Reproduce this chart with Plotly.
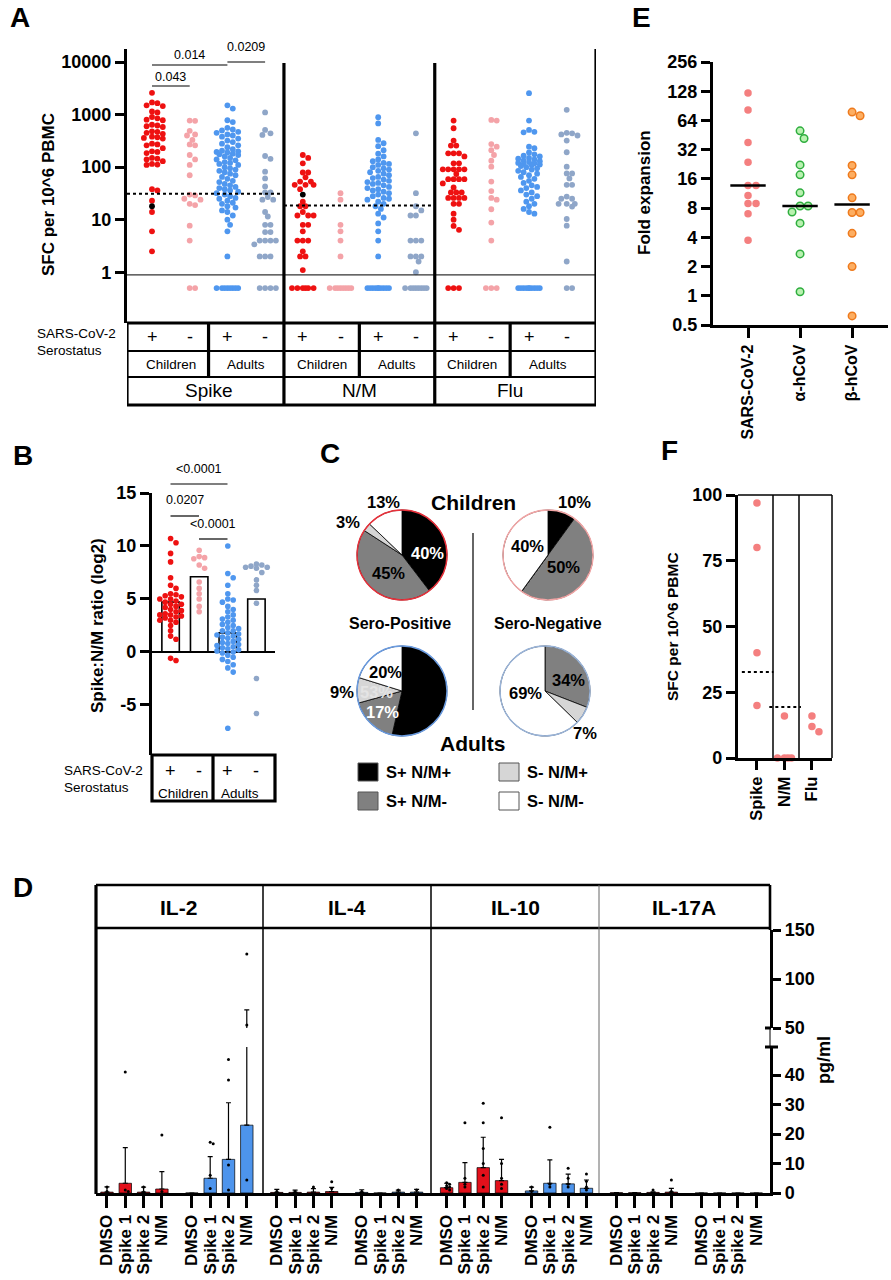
import numpy as np
import plotly.graph_objects as go

W, H = 891, 1280
FONT = "Liberation Sans, Arial, Helvetica, sans-serif"

# ======================= DATA =======================
# ---- Panel A: SFC per 10^6 PBMC ----
a_antigens = ["Spike", "N/M", "Flu"]
a_cohorts = ["Children", "Adults"]
a_sero = ["+", "-"]

a_spike_child_pos = [2600, 1700, 1650, 1500, 1450, 1150, 1100, 900, 850, 800, 780, 640, 620, 600, 580,
                     480, 470, 450, 430, 380, 370, 360, 350, 280, 270, 260, 230, 200, 195, 185, 150,
                     145, 140, 130, 115, 112, 110, 38, 36, 23, 14, 6, 2.5]
a_spike_child_neg = [770, 760, 490, 420, 400, 330, 270, 260, 170, 140, 110, 70, 30, 29, 25, 24, 20, 19,
                     7.7, 4, 0.5, 0.5]
a_spike_adult_pos = [1500, 1300, 780, 720, 560, 520, 500, 470, 450, 420, 400, 380, 350, 320, 300, 280,
                     260, 240, 220, 205, 200, 195, 190, 180, 175, 170, 160, 150, 140, 135, 125, 120,
                     115, 110, 100, 95, 90, 85, 80, 75, 70, 65, 60, 55, 52, 48, 45, 42, 40, 38, 36,
                     34, 32, 30, 28, 26, 25, 23, 21, 20, 18, 17, 15, 14, 12, 10, 8, 6, 2,
                     0.5, 0.5, 0.5, 0.5, 0.5, 0.5, 0.5, 0.5]
a_spike_adult_neg = [1100, 510, 440, 410, 163, 144, 82, 61, 43, 33, 33, 27, 24, 24, 14, 11.5, 8, 8,
                     5.8, 5.8, 4, 4, 4, 4, 3.4, 2, 2, 2, 0.5, 0.5, 0.5, 0.5]
a_nm_child_pos = [170, 150, 118, 79, 79, 64, 53, 53, 46, 46, 46, 38, 22, 18, 18, 14, 12, 12, 12, 8, 8,
                  6, 4, 4, 4, 2.5, 2, 2, 1.1, 0.5, 0.5, 0.5, 0.5, 0.5, 0.5]
a_nm_child_neg = [32, 24, 8, 6, 4, 2, 0.5, 0.5, 0.5, 0.5, 0.5, 0.5, 0.5, 0.5]
a_nm_adult_pos = [890, 680, 330, 285, 250, 210, 180, 160, 140, 130, 120, 115, 110, 100, 95, 90, 85, 80,
                  75, 70, 65, 62, 58, 55, 52, 50, 48, 45, 42, 40, 38, 36, 34, 32, 30, 28, 26, 25, 24,
                  22, 20, 18, 16, 13, 11, 8.5, 6, 4, 2,
                  0.5, 0.5, 0.5, 0.5, 0.5, 0.5, 0.5, 0.5, 0.5, 0.5]
a_nm_adult_neg = [440, 32, 18, 15, 12, 12, 4, 4, 4, 2, 2, 2, 1.6, 1.0,
                  0.5, 0.5, 0.5, 0.5, 0.5, 0.5, 0.5, 0.5]
a_flu_child_pos = [770, 550, 320, 257, 257, 183, 183, 183, 160, 118, 118, 91, 91, 91, 91, 91, 74, 59,
                   59, 59, 59, 49, 41, 33, 33, 33, 26, 26, 26, 26, 20, 20, 13, 10, 7.6, 6.4,
                   0.5, 0.5, 0.5]
a_flu_child_neg = [790, 770, 275, 245, 210, 170, 133, 102, 53, 35, 26, 24, 15.8, 8.8, 4, 0.5, 0.5, 0.5]
a_flu_adult_pos = [2560, 770, 510, 470, 460, 245, 230, 190, 175, 165, 160, 150, 145, 140, 135, 130,
                   125, 120, 118, 115, 112, 110, 105, 100, 95, 90, 85, 80, 75, 70, 65, 60, 55, 50,
                   45, 42, 40, 36, 33, 30, 28, 25, 22, 20, 18, 16, 14, 13,
                   0.5, 0.5, 0.5, 0.5, 0.5, 0.5, 0.5, 0.5, 0.5, 0.5]
a_flu_adult_neg = [1230, 450, 440, 420, 400, 320, 192, 102, 76, 76, 61, 46, 46, 27.5, 25, 25, 20, 20,
                   20, 17.8, 10.3, 7.7, 1.6, 0.5, 0.5]
a_highlight = {"Spike": 18, "N/M": 30}          # black highlighted donor
a_threshold = {"Spike": 31, "N/M": 18.6}        # dotted positivity thresholds
a_floor = 0.89                                  # solid detection line
a_tickvals = [1, 10, 100, 1000, 10000]
a_pvalues = ["0.043", "0.014", "0.0209"]
a_pvalue_pairs = [(0, 1), (0, 2), (2, 3)]

# ---- Panel B: Spike:N/M ratio (log2) ----
b_child_pos = [10.7, 10.3, 9.3, 8.5, 7.0, 6.3, 6.0, 5.5, 5.4, 5.3, 5.2, 5.0, 5.0, 4.8, 4.7, 4.5, 4.5,
               4.3, 4.2, 4.0, 3.9, 3.8, 3.6, 3.5, 3.5, 3.4, 3.3, 3.2, 3.0, 3.0, 2.8, 2.5, 2.0, 1.5,
               1.2, -0.6, -0.8]
b_child_neg = [9.6, 9.0, 8.9, 8.8, 8.2, 7.9, 6.6, 6.0, 5.5, 5.0, 4.3, 3.8]
b_adult_pos = [10.0, 7.4, 7.0, 6.3, 5.5, 5.0, 4.9, 4.7, 4.3, 4.0, 3.8, 3.5, 3.3, 3.1, 3.0, 2.8, 2.6,
               2.5, 2.3, 2.2, 2.0, 2.0, 1.8, 1.7, 1.6, 1.5, 1.4, 1.3, 1.2, 1.0, 0.9, 0.8, 0.7, 0.6,
               0.5, 0.4, 0.3, 0.2, 0.1, 0.0, -0.1, -0.3, -0.5, -0.7, -0.9, -1.2, -1.5, -1.9, -7.2]
b_adult_neg = [8.3, 8.2, 8.1, 8.0, 8.0, 7.9, 7.5, 6.8, 6.3, 5.8, 4.6, -2.5, -5.8]
b_bars = [4.7, 7.1, 1.8, 5.0]
b_tickvals = [-5, 0, 5, 10, 15]
b_pvalues = ["<0.0001", "0.0207", "<0.0001"]
b_pvalue_pairs = [(0, 2), (0, 1), (1, 2)]

# ---- Panel C: pies (% of donors) ----
c_labels = ["S+ N/M+", "S+ N/M-", "S- N/M+", "S- N/M-"]
c_children_pos = [40, 45, 3, 13]
c_children_neg = [10, 50, 0, 40]
c_adults_pos = [53, 17, 9, 20]
c_adults_neg = [0, 34, 7, 69]

# ---- Panel D: cytokines (pg/ml) ----
d_cytokines = ["IL-2", "IL-4", "IL-10", "IL-17A"]
d_stimuli = ["DMSO", "Spike 1", "Spike 2", "N/M"]
d_child_mean = [[0.3, 3.3, 0.3, 1.35], [0.2, 0.2, 0.3, 0.5], [1.8, 3.6, 8.6, 4.2], [0.1, 0.1, 0.2, 0.3]]
d_child_sd = [[1.8, 12.1, 1.7, 5.9], [1.0, 0.8, 1.2, 1.4], [1.5, 6.7, 10.3, 7.2], [0.0, 0.0, 0.2, 1.3]]
d_adult_mean = [[0.0, 5.0, 11.4, 23.0], [0.2, 0.0, 0.3, 0.3], [0.7, 3.3, 3.1, 1.6], [0.0, 0.0, 0.0, 0.0]]
d_adult_sd = [[0.0, 7.3, 19.2, 45.4], [0.9, 0.0, 0.7, 0.9], [1.3, 7.9, 3.3, 2.8], [0.0, 0.0, 0.0, 0.0]]
d_child_points = [[[0.5, 2.0], [41, 1.0, 0.5], [0.3, 2.0], [19.7, 0.5]],
                  [[0.5], [0.5], [2.0], [3.8, 1.5]],
                  [[3.5, 3.0, 2.5, 2.0, 1.5, 1.0], [23.8, 5.0, 3.0, 2.0],
                   [30.4, 23.8, 15.1, 10.0, 6.0, 2.0], [25.5, 10.0, 5.0, 3.0, 1.5]],
                  [[], [], [1.0], [4.4, 0.5]]]
d_adult_points = [[[], [16.7, 17.2, 6.0, 1.5], [45.3, 38.3, 9.5, 1.0], [125.5, 53.0, 4.4]],
                  [[0.5], [], [1.0], [1.0]],
                  [[2.0, 0.5], [22.3, 3.0, 2.0], [8.4, 5.0, 3.0, 2.0], [6.4, 4.0, 2.0, 1.0]],
                  [[], [], [], []]]
d_low_ticks = [0, 10, 20, 30, 40]
d_high_ticks = [50, 100, 150]

# ---- Panel E: fold expansion ----
e_categories = ["SARS-CoV-2", "α-hCoV", "β-hCoV"]
e_sars = [123, 82, 38, 23.7, 13.7, 13.7, 10.8, 8.9, 8.9, 7.0, 3.74]
e_alpha = [50, 41.7, 22.3, 17.6, 11.5, 8.4, 8.4, 7.3, 5.6, 2.7, 1.1]
e_beta = [78, 71.5, 22, 17.6, 10.2, 7.2, 7.2, 4.4, 2.0, 0.62]
e_medians = [13.7, 8.4, 8.7]
e_tickvals = [0.5, 1, 2, 4, 8, 16, 32, 64, 128, 256]

# ---- Panel F: SFC in seronegative subset ----
f_categories = ["Spike", "N/M", "Flu"]
f_spike = [97, 80, 40, 20]
f_nm = [16, 0, 0, 0, 0]
f_flu = [16, 12, 10]
f_thresholds = [32.7, 19.4]
f_tickvals = [0, 25, 50, 75, 100]

# ======================= STYLE / HELPERS =======================
RED = "#ee1111"
PINK = "#f4a3a8"
BLUE = "#4f97ef"
GREYBLUE = "#8fa6c8"
SALMON = "#f47f7f"
TICK = 18


def X(p):
    return p / W


def Y(p):
    return 1 - p / H


def fnt(size, bold=False, color="black"):
    return dict(family=FONT, size=size, color=color, weight="bold" if bold else "normal")


annotations = []
shapes = []


def text(x, y, s, size=13, bold=False, color="black", xref="paper", xanchor="center", angle=0):
    annotations.append(dict(x=X(x) if xref == "paper" else x, y=Y(y), text=s, showarrow=False,
                            font=fnt(size, bold, color), xref=xref, yref="paper",
                            xanchor=xanchor, yanchor="middle", textangle=angle))


def seg(x0, y0, x1, y1, w=1.0, color="black", xref="paper", dash=None):
    shapes.append(dict(type="line", x0=X(x0) if xref == "paper" else x0, x1=X(x1) if xref == "paper" else x1,
                       y0=Y(y0), y1=Y(y1), xref=xref, yref="paper",
                       line=dict(color=color, width=w, dash=dash) if dash else dict(color=color, width=w)))


def rect(x0, y0, x1, y1, fill, lw=1.0, lc="black"):
    shapes.append(dict(type="rect", x0=X(x0), x1=X(x1), y0=Y(y1), y1=Y(y0), xref="paper", yref="paper",
                       fillcolor=fill, line=dict(color=lc, width=lw)))


def swarm(vals, to_px, d, cap):
    """Beeswarm x-offsets (pixels) computed from the values' pixel positions."""
    ys = [to_px(v) for v in vals]
    order = sorted(range(len(vals)), key=lambda i: ys[i])
    step = d / 2.0
    cands = [0.0]
    for k in range(1, int(cap // step) + 1):
        cands += [k * step, -k * step]
    placed = []
    offs = [0.0] * len(vals)
    for i in order:
        y = ys[i]
        chosen, best, bestc = None, -1.0, 0.0
        for c in cands:
            md = min([np.hypot(c - px_, y - py_) for px_, py_ in placed] or [1e9])
            if md >= d * 0.97:
                chosen = c
                break
            if md > best:
                best, bestc = md, c
        if chosen is None:
            chosen = bestc
        offs[i] = chosen
        placed.append((chosen, y))
    return offs


fig = go.Figure()

# ======================= PANEL A =======================
A_DX = 37.7          # px per group
A_PX_DEC = 52.6      # px per decade
a_groups = [a_spike_child_pos, a_spike_child_neg, a_spike_adult_pos, a_spike_adult_neg,
            a_nm_child_pos, a_nm_child_neg, a_nm_adult_pos, a_nm_adult_neg,
            a_flu_child_pos, a_flu_child_neg, a_flu_adult_pos, a_flu_adult_neg]
group_colors = [RED, PINK, BLUE, GREYBLUE]
AX0, AX1 = -0.663, 11.777
for i, vals in enumerate(a_groups):
    ant = a_antigens[i // 4]
    extra = [a_highlight[ant]] if (i % 4 == 0 and ant in a_highlight) else []
    allv = list(vals) + extra
    cols = [group_colors[i % 4]] * len(vals) + ["black"] * len(extra)
    offs = swarm(allv, lambda v: -np.log10(v) * A_PX_DEC, 5.4, 12)
    fig.add_trace(go.Scatter(x=[i + o / A_DX for o in offs], y=allv, mode="markers",
                             marker=dict(size=5.8, color=cols, line=dict(width=0)),
                             xaxis="x", yaxis="y", cliponaxis=False, hoverinfo="skip"))
for j, ant in enumerate(a_antigens):
    if ant in a_threshold:
        x0 = AX0 if j == 0 else j * 4 - 0.5
        fig.add_trace(go.Scatter(x=[x0, j * 4 + 3.5], y=[a_threshold[ant]] * 2, mode="lines",
                                 line=dict(color="black", width=2, dash="dot"), xaxis="x", yaxis="y",
                                 hoverinfo="skip"))
fig.add_trace(go.Scatter(x=[AX0, AX1], y=[a_floor, a_floor], mode="lines",
                         line=dict(color="#333333", width=1.2), xaxis="x", yaxis="y", hoverinfo="skip"))

# brackets
for (g0, g1), p, (yb, yt) in zip(a_pvalue_pairs, a_pvalues, [(86, 77), (65, 55), (62, 47)]):
    seg(g0, yb, g1, yb, 1.2, xref="x")
    text((g0 + g1) / 2, yt, p, 12.5, xref="x")

# panel borders
for xb in [3.5, 7.5]:
    seg(xb, 63, xb, 405, 3.2, xref="x")
seg(AX1, 49, AX1, 405, 3.2, xref="x")
seg(AX0, 322, AX0, 405, 3.2, xref="x")
# table
seg(AX0, 323, AX1, 323, 3.2, xref="x")
seg(AX0, 405, AX1, 405, 3.2, xref="x")
seg(AX0, 351, AX1, 351, 1.8, xref="x")
seg(AX0, 377, AX1, 377, 1.8, xref="x")
for j, ant in enumerate(a_antigens):
    seg(j * 4 + 1.5, 323, j * 4 + 1.5, 377, 3.2, xref="x")
    for c, coh in enumerate(a_cohorts):
        for s, sg in enumerate(a_sero):
            text(j * 4 + c * 2 + s, 337, sg, 18, xref="x")
        text(j * 4 + c * 2 + 0.5, 364, coh, 13.5, xref="x")
    text(j * 4 + 1.5, 391, ant, 19, xref="x")
text(35, 333, "SARS-CoV-2", 13.5, xanchor="left")
text(35, 350, "Serostatus", 13.5, xanchor="left")
text(48, 195, "SFC per 10^6 PBMC", 17, True, angle=-90)
text(20, 18, "A", 28, True)

# ======================= PANEL B =======================
B_DX = 28.6
B_PX = 10.6
fig.add_trace(go.Bar(x=[0, 1, 2, 3], y=b_bars, width=0.61, marker=dict(color="white", line=dict(color="black", width=1.6)),
                     xaxis="x2", yaxis="y2", hoverinfo="skip"))
fig.add_trace(go.Scatter(x=[-0.65, 3.65], y=[0, 0], mode="lines", line=dict(color="black", width=2),
                         xaxis="x2", yaxis="y2", hoverinfo="skip"))
for i, vals in enumerate([b_child_pos, b_child_neg, b_adult_pos, b_adult_neg]):
    offs = swarm(vals, lambda v: -v * B_PX, 5.4, 11)
    fig.add_trace(go.Scatter(x=[i + o / B_DX for o in offs], y=vals, mode="markers",
                             marker=dict(size=5.6, color=group_colors[i]), xaxis="x2", yaxis="y2",
                             cliponaxis=False, hoverinfo="skip"))
B_XC = [170.5, 199, 227.5, 256]
for (g0, g1), p, (yb, yt) in zip(b_pvalue_pairs, b_pvalues, [(484, 469), (516, 500), (539, 524)]):
    seg(B_XC[g0], yb, B_XC[g1], yb, 1.2)
    text((B_XC[g0] + B_XC[g1]) / 2, yt, p, 12.5)
rect(152, 755, 275, 801, "rgba(0,0,0,0)", 3.2)
seg(213, 755, 213, 801, 3.2)
for c, coh in enumerate(a_cohorts):
    for s, sg in enumerate(a_sero):
        text(B_XC[c * 2 + s], 771, sg, 18)
    text((B_XC[c * 2] + B_XC[c * 2 + 1]) / 2 - 2, 793, coh, 13.5)
text(62, 770, "SARS-CoV-2", 13.5, xanchor="left")
text(62, 787, "Serostatus", 13.5, xanchor="left")
text(97, 626, "Spike:N/M ratio (log2)", 17, True, angle=-90)
text(23, 455, "B", 28, True)

# ======================= PANEL C =======================
c_colors = ["black", "#808080", "#d6d6d6", "white"]
pies = [
    (c_children_pos, (402, 555), "#e8303a",
     [(427, 553, "white"), (388, 573, "black"), (348, 522, "black"), (383, 502, "black")]),
    (c_children_neg, (548, 555), "#f2a6a6",
     [(574, 502, "black"), (563, 567, "black"), None, (527, 546, "black")]),
    (c_adults_pos, (402, 691), "#6a9be0",
     [(376, 692, "#e4e4e4"), (382, 712, "white"), (342, 692, "black"), (385, 672, "black")]),
    (c_adults_neg, (545, 691), "#9ab4d8",
     [None, (568, 680, "black"), (585, 733, "black"), (525, 693, "black")]),
]
R = 45
for vals, (cx, cy), oc, labpos in pies:
    fig.add_trace(go.Pie(values=vals, labels=c_labels, sort=False, direction="clockwise", rotation=0,
                         marker=dict(colors=c_colors, line=dict(color="black", width=0.8)),
                         textinfo="none", hoverinfo="skip", showlegend=False,
                         domain=dict(x=[X(cx - R), X(cx + R)], y=[Y(cy + R), Y(cy - R)])))
    shapes.append(dict(type="circle", xref="paper", yref="paper", x0=X(cx - R), x1=X(cx + R),
                       y0=Y(cy + R), y1=Y(cy - R), line=dict(color=oc, width=1.4)))
    for v, lp in zip(vals, labpos):
        if lp is not None and v > 0:
            text(lp[0], lp[1], f"{v}%", 16.5, True, lp[2])
text(473, 502, "Children", 21, True)
text(472, 743, "Adults", 21, True)
text(400, 623, "Sero-Positive", 16, True)
text(548, 623, "Sero-Negative", 16, True)
seg(473, 533, 473, 710, 1.5, "#333333")
leg_pos = [(358, 763), (358, 792), (499, 763), (499, 792)]
for lab, col, (lx, ly) in zip(c_labels, c_colors, leg_pos):
    rect(lx, ly, lx + 20, ly + 18, col, 1.0, "#555555")
    text(lx + 26, ly + 9, lab, 16.5, True, xanchor="left")
text(330, 453, "C", 28, True)

# ======================= PANEL D =======================
D_DX = 18.3
D_GAP = 4.64
d_colors = ["#e3101b", "#4d94ec"]
tickpos, ticktxt = [], []
for ci, cyt in enumerate(d_cytokines):
    for coh in range(2):
        g = 2 * ci + coh
        xs = [g * D_GAP + k for k in range(4)]
        tickpos += xs
        ticktxt += d_stimuli
        means = (d_child_mean if coh == 0 else d_adult_mean)[ci]
        sds = (d_child_sd if coh == 0 else d_adult_sd)[ci]
        pts = (d_child_points if coh == 0 else d_adult_points)[ci]
        for xa, ya in [("x5", "y5"), ("x6", "y6")]:
            fig.add_trace(go.Bar(x=xs, y=means, width=0.68,
                                 marker=dict(color=d_colors[coh], line=dict(color="black", width=0.7)),
                                 error_y=dict(type="data", array=sds, arrayminus=[0] * 4, symmetric=False,
                                              color="black", thickness=1.2, width=2.5),
                                 xaxis=xa, yaxis=ya, hoverinfo="skip"))
        px_, py_ = [], []
        for k, vals in enumerate(pts):
            if not vals:
                continue
            offs = swarm(vals, lambda v: -v * 2.95, 3.0, 4)
            px_ += [xs[k] + o / D_DX for o in offs]
            py_ += list(vals)
        for xa, ya in [("x5", "y5"), ("x6", "y6")]:
            fig.add_trace(go.Scatter(x=px_, y=py_, mode="markers", marker=dict(size=3, color="black"),
                                     xaxis=xa, yaxis=ya, hoverinfo="skip"))
# header box
seg(96, 885, 770, 885, 2.6)
seg(96, 928, 770, 928, 2.6)
seg(770, 885, 770, 930, 2.6)
seg(96, 885, 96, 1194, 3.2)
for xv, w, c in [(263, 1.5, "black"), (431, 1.5, "black"), (599, 1.0, "#666666")]:
    seg(xv, 885, xv, 1193, w, c)
for ci, cyt in enumerate(d_cytokines):
    cx = [178, 347, 515, 684][ci]
    text(cx, 907, cyt, 21, True)
# axis break marks
seg(770, 1028, 770, 1047, 1.0)
seg(765, 1047, 778, 1047, 3)
seg(765, 1028, 771, 1028, 3)
text(824, 1060, "pg/ml", 18, True, angle=-90)
text(23, 887, "D", 28, True)

# ======================= PANEL E =======================
E_DX = 52.0
E_PX = 29.4
e_styles = [dict(color=SALMON, line=dict(width=0)),
            dict(color="#b9f2b0", line=dict(color="#2fae3f", width=1.5)),
            dict(color="#fdae62", line=dict(color="#ee7a1d", width=1.5))]
for i, vals in enumerate([e_sars, e_alpha, e_beta]):
    offs = swarm(vals, lambda v: -np.log2(v) * E_PX, 8.0, 16)
    fig.add_trace(go.Scatter(x=[i + o / E_DX for o in offs], y=vals, mode="markers",
                             marker=dict(size=7.5, **e_styles[i]), xaxis="x3", yaxis="y3",
                             cliponaxis=False, hoverinfo="skip"))
    fig.add_trace(go.Scatter(x=[i - 0.34, i + 0.34], y=[e_medians[i]] * 2, mode="lines",
                             line=dict(color="black", width=2.5), xaxis="x3", yaxis="y3", hoverinfo="skip"))
text(645, 193, "Fold expansion", 17, True, angle=-90)
text(641, 18, "E", 28, True)

# ======================= PANEL F =======================
F_DX = 27.5
F_PX = 2.63
for i, vals in enumerate([f_spike, f_nm, f_flu]):
    offs = swarm(vals, lambda v: -v * F_PX, 7.0, 8)
    fig.add_trace(go.Scatter(x=[i + o / F_DX for o in offs], y=vals, mode="markers",
                             marker=dict(size=7.5, color=SALMON), xaxis="x4", yaxis="y4",
                             cliponaxis=False, hoverinfo="skip"))
for i, t in enumerate(f_thresholds):
    fig.add_trace(go.Scatter(x=[i - 0.55, i + 0.6], y=[t, t], mode="lines",
                             line=dict(color="black", width=2, dash="dot"), xaxis="x4", yaxis="y4",
                             hoverinfo="skip"))
seg(738, 495, 832, 495, 1.5)
seg(832, 495, 832, 758, 1.5)
seg(773, 495, 773, 758, 1.5)
seg(799, 495, 799, 758, 1.5)
text(672, 627, "SFC per 10^6 PBMC", 15.5, True, angle=-90)
text(669, 451, "F", 28, True)

# ======================= LAYOUT =======================
tick_bold = fnt(TICK, True)
common = dict(showgrid=False, zeroline=False, automargin=False)
axl = dict(ticks="outside", tickwidth=3, showline=True, linewidth=3.2, linecolor="black", tickcolor="black")
layout = dict(
    width=W, height=H, margin=dict(l=0, r=0, t=0, b=0), template="none",
    paper_bgcolor="white", plot_bgcolor="rgba(0,0,0,0)", showlegend=False, barmode="overlay",
    font=dict(family=FONT, color="black"),
    annotations=annotations, shapes=shapes,
    # A
    xaxis=dict(domain=[X(127), X(596)], range=[AX0, AX1], visible=False, anchor="y", **common),
    yaxis=dict(domain=[Y(323), Y(49)], type="log", range=[-0.966, 4.248], anchor="x",
               tickvals=a_tickvals, ticktext=[str(v) for v in a_tickvals], tickfont=tick_bold,
               ticklen=9, **axl, **common),
    # B
    xaxis2=dict(domain=[X(152), X(275)], range=[-0.65, 3.65], visible=False, anchor="y2", **common),
    yaxis2=dict(domain=[Y(755), Y(493)], range=[-9.72, 15], anchor="x2",
                tickvals=b_tickvals, ticktext=[str(v) for v in b_tickvals], tickfont=tick_bold,
                ticklen=9, **axl, **common),
    # E
    xaxis3=dict(domain=[X(713), X(888)], range=[-0.673, 2.69], anchor="y3",
                tickvals=[0, 1, 2], ticktext=e_categories, tickangle=-90, tickfont=fnt(16, True),
                ticklen=10, **axl, **common),
    yaxis3=dict(domain=[Y(325), Y(62)], type="log", range=[np.log10(0.5), np.log10(256)], anchor="x3",
                tickvals=e_tickvals, ticktext=[f"{v:g}" for v in e_tickvals], tickfont=tick_bold,
                ticklen=9, **axl, **common),
    # F
    xaxis4=dict(domain=[X(738), X(832)], range=[-0.69, 2.73], anchor="y4",
                tickvals=[0, 1, 2], ticktext=f_categories, tickangle=-90, tickfont=fnt(16.5, True),
                ticklen=9, **axl, **common),
    yaxis4=dict(domain=[Y(758), Y(495)], range=[0, 100], anchor="x4",
                tickvals=f_tickvals, ticktext=[str(v) for v in f_tickvals], tickfont=tick_bold,
                ticklen=9, **axl, **common),
    # D lower
    xaxis5=dict(domain=[X(96), X(770)], range=[-0.6, 36.23], anchor="y5",
                tickvals=tickpos, ticktext=ticktxt, tickangle=-90, tickfont=fnt(17, True),
                ticklen=12, **axl, **common),
    yaxis5=dict(domain=[Y(1193), Y(1047)], range=[0, 49.5], anchor="x5", side="right",
                tickvals=d_low_ticks, ticktext=[str(v) for v in d_low_ticks], tickfont=tick_bold,
                ticklen=8, **axl, **common),
    # D upper
    xaxis6=dict(domain=[X(96), X(770)], range=[-0.6, 36.23], anchor="y6", matches="x5", visible=False,
                **common),
    yaxis6=dict(domain=[Y(1028), Y(930)], range=[50, 150], anchor="x6", side="right",
                tickvals=d_high_ticks, ticktext=[str(v) for v in d_high_ticks], tickfont=tick_bold,
                ticklen=8, **axl, **common),
)
fig.update_layout(**layout)
fig.write_html("out.html", config={"displayModeBar": False},
               post_script="document.body.style.margin='0px';document.body.style.overflow='hidden';")
